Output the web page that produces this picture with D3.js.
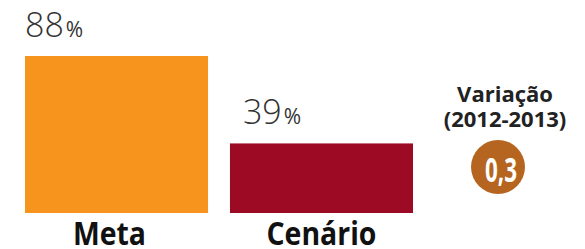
<!DOCTYPE html>
<html>
<head>
<meta charset="utf-8">
<script src="https://cdn.jsdelivr.net/npm/d3@7"></script>
<style>
  body { margin: 0; background: #fff; }
  svg { display: block; }
</style>
</head>
<body>
<div id="chart"></div>
<script>
const W = 585, H = 249;

// dados
const categories = ["Meta", "Cenário"];
const values = [88, 39];
const colors = ["#f7941e", "#9c0a24"];
const variacaoTitle = ["Variação", "(2012-2013)"];
const variacaoValue = "0,3";

// ajustes finos de posição dos rótulos
const valueDx = [0, 13];
const catDx = [-7, 0];
const catWidth = [73, 110];

const svg = d3.select("#chart")
  .append("svg")
  .attr("width", W)
  .attr("height", H);

const x = d3.scaleBand()
  .domain(categories)
  .range([25, 413])
  .paddingInner(0.107);

const y = d3.scaleLinear()
  .domain([0, 88])
  .range([213, 56]);

const bars = svg.selectAll("g.bar")
  .data(categories)
  .enter()
  .append("g")
  .attr("class", "bar");

bars.append("rect")
  .attr("x", d => x(d))
  .attr("y", (d, i) => y(values[i]))
  .attr("width", x.bandwidth())
  .attr("height", (d, i) => y(0) - y(values[i]))
  .attr("fill", (d, i) => colors[i]);

// valor em cima da barra
const valLabel = bars.append("text")
  .attr("x", (d, i) => x(d) + valueDx[i])
  .attr("y", (d, i) => y(values[i]) - 19)
  .attr("font-family", "'Open Sans', sans-serif")
  .attr("font-weight", 300)
  .attr("fill", "#333");

valLabel.append("tspan")
  .attr("font-size", 34)
  .text((d, i) => values[i]);

valLabel.append("tspan")
  .attr("font-size", 21)
  .attr("font-weight", 400)
  .attr("dx", 2)
  .text("%");

// categorias
bars.append("text")
  .attr("x", (d, i) => x(d) + x.bandwidth() / 2 + catDx[i])
  .attr("y", 245)
  .attr("text-anchor", "middle")
  .attr("font-family", "'Open Sans', sans-serif")
  .attr("font-weight", 700)
  .attr("font-size", 33)
  .attr("textLength", (d, i) => catWidth[i])
  .attr("lengthAdjust", "spacingAndGlyphs")
  .attr("fill", "#111")
  .text(d => d);

// variação
const cx = 498, cy = 167;

svg.selectAll("text.vtitle")
  .data(variacaoTitle)
  .enter()
  .append("text")
  .attr("class", "vtitle")
  .attr("x", 505)
  .attr("y", (d, i) => 102 + i * 25)
  .attr("text-anchor", "middle")
  .attr("font-family", "'Open Sans', sans-serif")
  .attr("font-weight", 700)
  .attr("font-size", 22)
  .attr("fill", "#222")
  .text(d => d);

svg.append("circle")
  .attr("cx", cx)
  .attr("cy", cy)
  .attr("r", 27)
  .attr("fill", "#b5651f");

svg.append("text")
  .attr("x", cx + 3)
  .attr("y", 182)
  .attr("text-anchor", "middle")
  .attr("font-family", "'Open Sans', sans-serif")
  .attr("font-weight", 700)
  .attr("font-size", 34)
  .attr("textLength", 32)
  .attr("lengthAdjust", "spacingAndGlyphs")
  .attr("fill", "#fff")
  .text(variacaoValue);
</script>
</body>
</html>
